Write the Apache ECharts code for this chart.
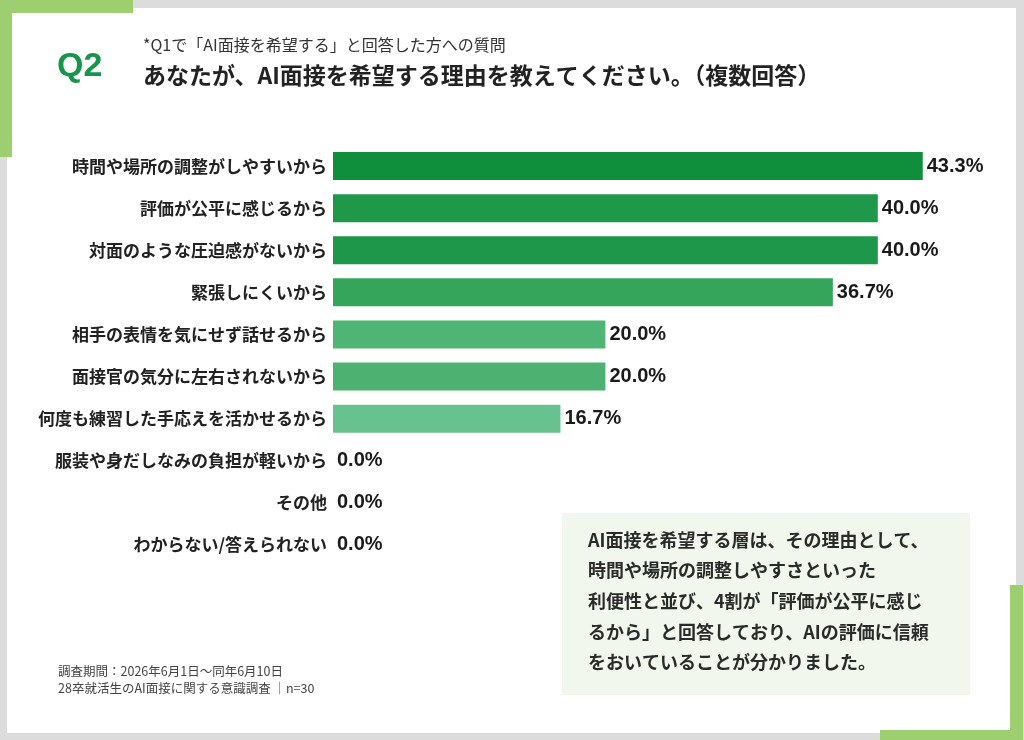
<!DOCTYPE html>
<html>
<head>
<meta charset="utf-8">
<title>Q2 AI面接を希望する理由</title>
<script src="https://cdn.jsdelivr.net/npm/echarts@6/dist/echarts.min.js"></script>
<style>
  html, body { margin: 0; padding: 0; background: #fff; }
  #chart { width: 1024px; height: 740px; }
</style>
</head>
<body>
<div id="chart"></div>
<script>
// 選択肢（上から順）
var reasons = [
    "時間や場所の調整がしやすいから",
    "評価が公平に感じるから",
    "対面のような圧迫感がないから",
    "緊張しにくいから",
    "相手の表情を気にせず話せるから",
    "面接官の気分に左右されないから",
    "何度も練習した手応えを活かせるから",
    "服装や身だしなみの負担が軽いから",
    "その他",
    "わからない/答えられない"
];
var percents = [43.3, 40.0, 40.0, 36.7, 20.0, 20.0, 16.7, 0.0, 0.0, 0.0];
var barColors = ["#0f8e3c", "#1f984a", "#1f974a", "#35a55c", "#4fb574", "#4db271", "#67c28f", "#7fcc9f", "#7fcc9f", "#7fcc9f"];

var noteLines = [
    "AI面接を希望する層は、その理由として、",
    "時間や場所の調整しやすさといった",
    "利便性と並び、4割が「評価が公平に感じ",
    "るから」と回答しており、AIの評価に信頼",
    "をおいていることが分かりました。"
];
var footLines = [
    "調査期間：2026年6月1日～同年6月10日",
    "28卒就活生のAI面接に関する意識調査 │n=30"
];

var FONT = '"Noto Sans CJK JP", "Noto Sans", sans-serif';
var LATIN = '"Liberation Sans", "Noto Sans CJK JP", sans-serif';
var frameGray = "#dcdcdc";
var accent = "#9dce70";

var chart = echarts.init(document.getElementById('chart'), null, {renderer: 'canvas'});

var barData = [];
for (var i = 0; i < percents.length; i++) {
    barData.push({value: percents[i], itemStyle: {color: barColors[i]}});
}

var noteText = [];
for (var j = 0; j < noteLines.length; j++) {
    noteText.push({
        type: 'text', x: 588, y: 540 + j * 30.6,
        style: {text: noteLines[j], font: 'bold 18px ' + FONT, fill: '#2a2a2a', verticalAlign: 'middle'}
    });
}

var option = {
    backgroundColor: '#ffffff',
    animation: false,
    grid: {left: 333, top: 145, width: 681, height: 421, containLabel: false},
    xAxis: {
        type: 'value', min: 0, max: 50,
        show: false
    },
    yAxis: {
        type: 'category',
        data: reasons,
        inverse: true,
        axisLine: {show: false},
        axisTick: {show: false},
        axisLabel: {
            margin: 6,
            color: '#222',
            fontFamily: FONT,
            fontWeight: 'bold',
            fontSize: 17
        }
    },
    series: [{
        type: 'bar',
        data: barData,
        barWidth: 28,
        label: {
            show: true,
            position: 'right',
            distance: 4,
            color: '#1a1a1a',
            fontFamily: LATIN,
            fontWeight: 'bold',
            fontSize: 20,
            formatter: function (p) { return p.value.toFixed(1) + '%'; }
        }
    }],
    graphic: [
        // 外枠
        {type: 'rect', shape: {x: 0, y: 0, width: 1024, height: 8}, style: {fill: frameGray}, silent: true},
        {type: 'rect', shape: {x: 0, y: 733, width: 1024, height: 7}, style: {fill: frameGray}, silent: true},
        {type: 'rect', shape: {x: 0, y: 0, width: 7, height: 740}, style: {fill: frameGray}, silent: true},
        {type: 'rect', shape: {x: 1016, y: 0, width: 8, height: 740}, style: {fill: frameGray}, silent: true},
        // 緑のアクセント
        {type: 'rect', shape: {x: 0, y: 0, width: 133, height: 13}, style: {fill: accent}, silent: true},
        {type: 'rect', shape: {x: 0, y: 0, width: 12, height: 157}, style: {fill: accent}, silent: true},
        {type: 'rect', shape: {x: 1010, y: 585, width: 13, height: 155}, style: {fill: accent}, silent: true},
        {type: 'rect', shape: {x: 880, y: 730, width: 143, height: 10}, style: {fill: accent}, silent: true},
        // 見出し
        {type: 'text', x: 57, y: 67, style: {text: 'Q2', font: 'bold 34px ' + LATIN, fill: '#16964a', verticalAlign: 'middle'}},
        {type: 'text', x: 143, y: 45, style: {text: '*Q1で「AI面接を希望する」と回答した方への質問', font: '16px ' + FONT, fill: '#333', verticalAlign: 'middle'}},
        {type: 'text', x: 143, y: 75, style: {text: 'あなたが、AI面接を希望する理由を教えてください。（複数回答）', font: 'bold 23px ' + FONT, fill: '#222', verticalAlign: 'middle'}},
        // コメント枠
        {type: 'rect', shape: {x: 562, y: 513, width: 408, height: 182}, style: {fill: '#f1f7ec'}, silent: true}
    ].concat(noteText).concat([
        {type: 'text', x: 58, y: 671, style: {text: footLines[0], font: '12.5px ' + FONT, fill: '#444', verticalAlign: 'middle'}},
        {type: 'text', x: 58, y: 688, style: {text: footLines[1], font: '12.5px ' + FONT, fill: '#444', verticalAlign: 'middle'}}
    ])
};

chart.setOption(option);
</script>
</body>
</html>
